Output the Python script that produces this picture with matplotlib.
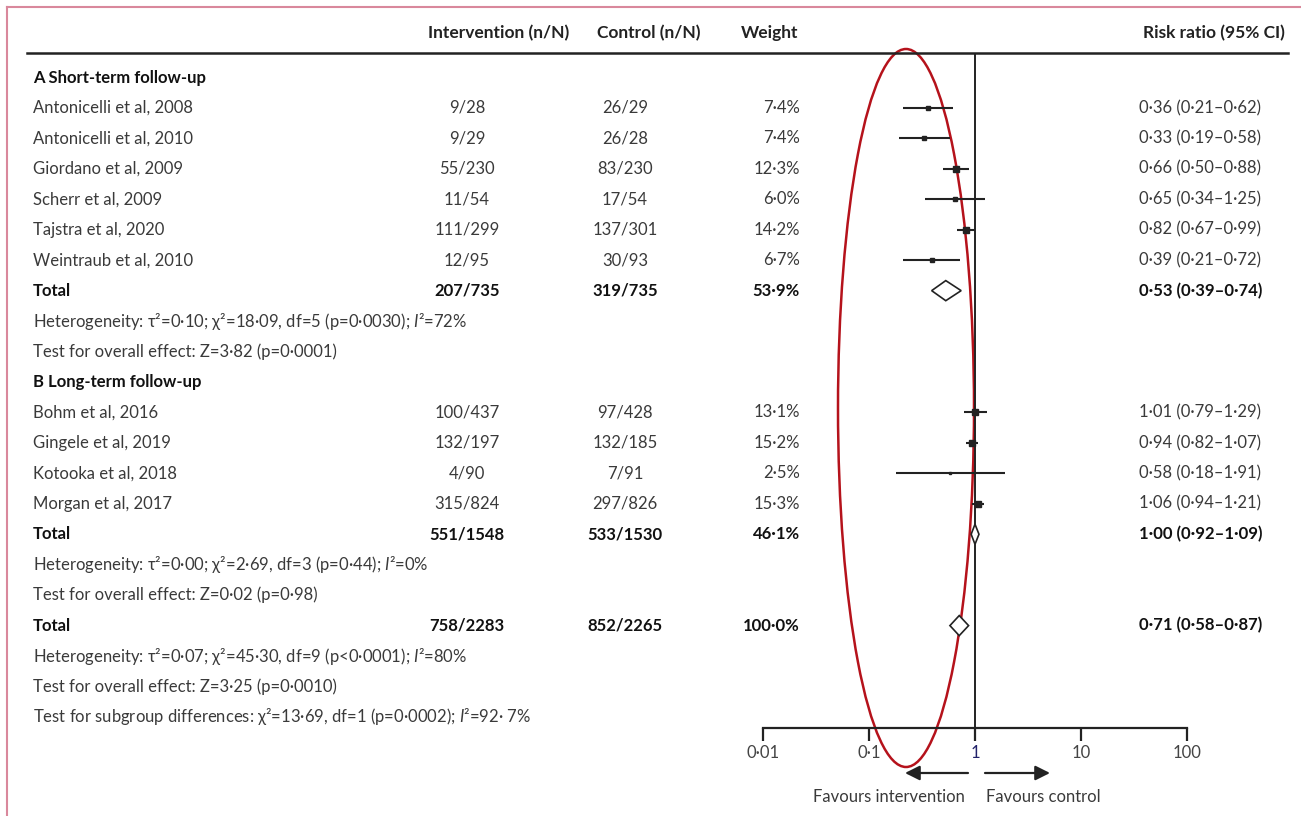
import matplotlib
matplotlib.use('Agg')
import matplotlib.pyplot as plt
import matplotlib.transforms as mtransforms
from matplotlib.patches import Ellipse, Polygon
import numpy as np

plt.rcParams['font.family'] = ['Lato', 'DejaVu Sans']
plt.rcParams['mathtext.fontset'] = 'custom'
plt.rcParams['mathtext.it'] = 'Lato:italic'
plt.rcParams['mathtext.rm'] = 'Lato'

#%% Data

studies_a = ['Antonicelli et al, 2008', 'Antonicelli et al, 2010', 'Giordano et al, 2009',
             'Scherr et al, 2009', 'Tajstra et al, 2020', 'Weintraub et al, 2010']
interv_a = ['9/28', '9/29', '55/230', '11/54', '111/299', '12/95']
control_a = ['26/29', '26/28', '83/230', '17/54', '137/301', '30/93']
weight_a = [7.4, 7.4, 12.3, 6.0, 14.2, 6.7]
rr_a = [0.36, 0.33, 0.66, 0.65, 0.82, 0.39]
lo_a = [0.21, 0.19, 0.50, 0.34, 0.67, 0.21]
hi_a = [0.62, 0.58, 0.88, 1.25, 0.99, 0.72]

studies_b = ['Bohm et al, 2016', 'Gingele et al, 2019', 'Kotooka et al, 2018', 'Morgan et al, 2017']
interv_b = ['100/437', '132/197', '4/90', '315/824']
control_b = ['97/428', '132/185', '7/91', '297/826']
weight_b = [13.1, 15.2, 2.5, 15.3]
rr_b = [1.01, 0.94, 0.58, 1.06]
lo_b = [0.79, 0.82, 0.18, 0.94]
hi_b = [1.29, 1.07, 1.91, 1.21]

# pooled: subgroup A, subgroup B, overall
total_interv = ['207/735', '551/1548', '758/2283']
total_control = ['319/735', '533/1530', '852/2265']
total_weight = [53.9, 46.1, 100.0]
total_rr = [0.53, 1.00, 0.71]
total_lo = [0.39, 0.92, 0.58]
total_hi = [0.74, 1.09, 0.87]

het_text = ['Heterogeneity: τ²=0·10; χ²=18·09, df=5 (p=0·0030); $I$²=72%',
            'Heterogeneity: τ²=0·00; χ²=2·69, df=3 (p=0·44); $I$²=0%',
            'Heterogeneity: τ²=0·07; χ²=45·30, df=9 (p<0·0001); $I$²=80%']
effect_text = ['Test for overall effect: Z=3·82 (p=0·0001)',
               'Test for overall effect: Z=0·02 (p=0·98)',
               'Test for overall effect: Z=3·25 (p=0·0010)']
subgroup_text = 'Test for subgroup differences: χ²=13·69, df=1 (p=0·0002); $I$²=92· 7%'

tick_vals = [0.01, 0.1, 1, 10, 100]
tick_labels = ['0·01', '0·1', '1', '10', '100']

#%% Helpers

def num(v, nd=2):
    return ('%.*f' % (nd, v)).replace('.', '·')

def ci_text(r, l, h):
    return '%s (%s–%s)' % (num(r), num(l), num(h))

#%% Figure

W, H = 1301, 816
fig = plt.figure(figsize=(W/100, H/100), dpi=100)

bg = fig.add_axes([0, 0, 1, 1])
bg.set_xlim(0, W)
bg.set_ylim(H, 0)
bg.axis('off')

row0, drow = 77.5, 30.45
ax_top, ax_bot = 53, 728
x_left, x_right = 763, 1187
ax = fig.add_axes([x_left/W, 1-ax_bot/H, (x_right-x_left)/W, (ax_bot-ax_top)/H])
ax.set_xscale('log')
ax.set_xlim(0.01, 100)
ax.set_ylim((ax_bot-row0)/drow, (ax_top-row0)/drow)
ax.patch.set_alpha(0)
for s in ['top', 'left', 'right']:
    ax.spines[s].set_visible(False)
ax.spines['bottom'].set_linewidth(1.6)
ax.spines['bottom'].set_color('#222222')
ax.set_yticks([])
ax.set_xticks(tick_vals)
ax.set_xticklabels(tick_labels)
ax.minorticks_off()
ax.tick_params(axis='x', direction='out', length=9, width=1.6, color='#222222',
               labelsize=12, labelcolor='#444444', pad=3)
ax.get_xticklabels()[2].set_color('#22226a')
ax.axvline(1, color='#222222', lw=1.4)

trans = mtransforms.blended_transform_factory(bg.transData, ax.transData)

grey = '#3a3a3a'
fs = 12

def row_text(row, label, iv, ct, wt, rr, bold=False):
    kw = dict(transform=trans, va='center', fontsize=fs,
              color='#111111' if bold else grey, fontweight='bold' if bold else 'normal')
    ax.text(33, row, label, ha='left', **kw)
    ax.text(467, row, iv, ha='center', **kw)
    ax.text(625, row, ct, ha='center', **kw)
    ax.text(800, row, num(wt, 1) + '%', ha='right', **kw)
    ax.text(1139, row, rr, ha='left', **kw)

def note(row, s, bold=False):
    ax.text(33, row, s, transform=trans, va='center', ha='left', fontsize=fs,
            color='#111111' if bold else grey, fontweight='bold' if bold else 'normal')

def study(row, r, l, h, w):
    ax.plot([l, h], [row, row], color='#222222', lw=1.5, solid_capstyle='butt')
    ax.plot([r], [row], 's', color='#222222', ms=1.25*np.sqrt(w))

def diamond(row, r, l, h):
    hh = 0.33
    ax.add_patch(Polygon([[l, row], [r, row-hh], [h, row], [r, row+hh]], closed=True,
                         facecolor='white', edgecolor='#222222', lw=1.2, zorder=3))

# headers
hk = dict(va='center', fontsize=12.5, color='#222222', fontweight='bold')
bg.text(499, 33, 'Intervention (n/N)', ha='center', **hk)
bg.text(649, 33, 'Control (n/N)', ha='center', **hk)
bg.text(770, 33, 'Weight', ha='center', **hk)
bg.text(1285, 33, 'Risk ratio (95% CI)', ha='right', **hk)
bg.plot([27, 1288], [ax_top, ax_top], color='#222222', lw=1.8)

# subgroup A
note(0, 'A Short-term follow-up', bold=True)
for i in range(len(studies_a)):
    row_text(1+i, studies_a[i], interv_a[i], control_a[i], weight_a[i],
             ci_text(rr_a[i], lo_a[i], hi_a[i]))
    study(1+i, rr_a[i], lo_a[i], hi_a[i], weight_a[i])
row_text(7, 'Total', total_interv[0], total_control[0], total_weight[0],
         ci_text(total_rr[0], total_lo[0], total_hi[0]), bold=True)
diamond(7, total_rr[0], total_lo[0], total_hi[0])
note(8, het_text[0])
note(9, effect_text[0])

# subgroup B
note(10, 'B Long-term follow-up', bold=True)
for i in range(len(studies_b)):
    row_text(11+i, studies_b[i], interv_b[i], control_b[i], weight_b[i],
             ci_text(rr_b[i], lo_b[i], hi_b[i]))
    study(11+i, rr_b[i], lo_b[i], hi_b[i], weight_b[i])
row_text(15, 'Total', total_interv[1], total_control[1], total_weight[1],
         ci_text(total_rr[1], total_lo[1], total_hi[1]), bold=True)
diamond(15, total_rr[1], total_lo[1], total_hi[1])
note(16, het_text[1])
note(17, effect_text[1])

# overall
row_text(18, 'Total', total_interv[2], total_control[2], total_weight[2],
         ci_text(total_rr[2], total_lo[2], total_hi[2]), bold=True)
diamond(18, total_rr[2], total_lo[2], total_hi[2])
note(19, het_text[2])
note(20, effect_text[2])
note(21, subgroup_text)

# favours arrows
ak = dict(arrowstyle='-|>', mutation_scale=22, lw=1.6, color='#222222', shrinkA=0, shrinkB=0)
bg.annotate('', xy=(905, 773), xytext=(968, 773), arrowprops=ak)
bg.annotate('', xy=(1050, 773), xytext=(985, 773), arrowprops=ak)
bg.text(889, 797, 'Favours intervention', ha='center', va='center', fontsize=fs, color=grey)
bg.text(1043, 797, 'Favours control', ha='center', va='center', fontsize=fs, color=grey)

# red hand annotation
bg.add_patch(Ellipse((906, 408), 136, 718, angle=0, fill=False, edgecolor='#b5121b', lw=1.8))

# page frame
bg.plot([7, 7], [7, H], color='#d9889c', lw=1.5)
bg.plot([7, W], [7, 7], color='#d9889c', lw=1.5)

fig.savefig('out.png', dpi=100)
